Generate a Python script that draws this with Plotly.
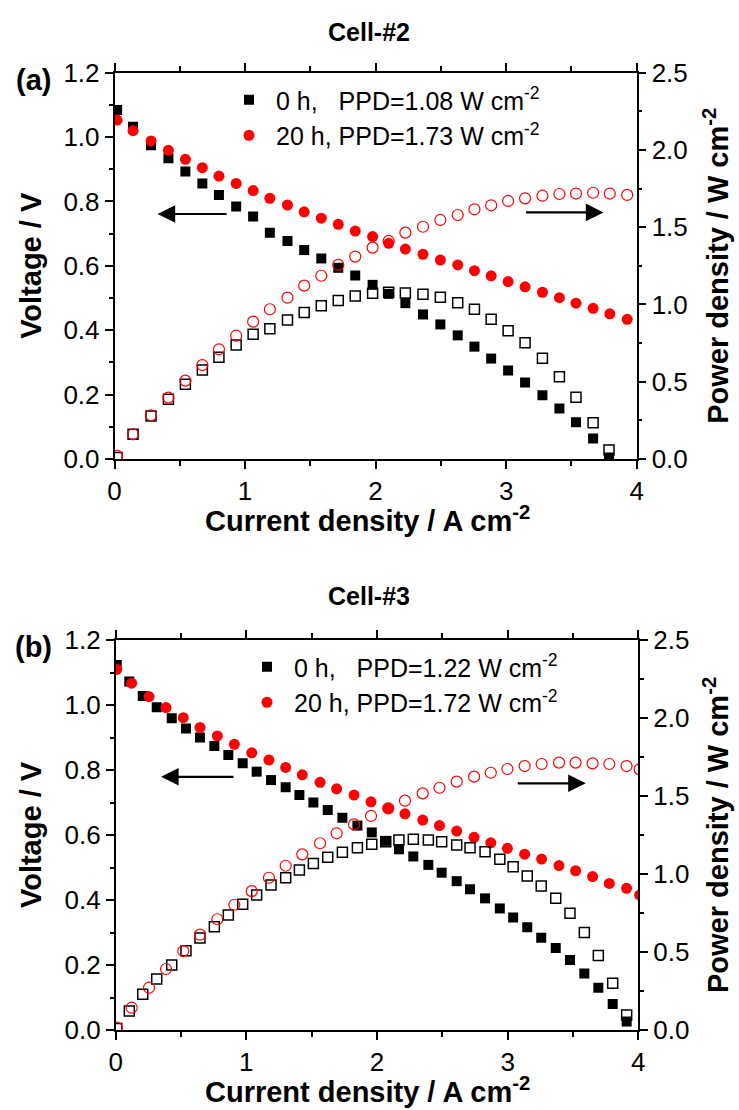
import plotly.graph_objects as go

# ---------------- Panel (a): Cell-#2 ----------------
a_x0 = [0.02, 0.142, 0.28, 0.413, 0.543, 0.673, 0.80, 0.932, 1.062, 1.19, 1.325, 1.453, 1.584, 1.714, 1.844,
        1.977, 2.10, 2.228, 2.363, 2.496, 2.629, 2.757, 2.885, 3.015, 3.145, 3.278, 3.408, 3.535, 3.666, 3.788]
a_v0 = [1.084, 1.032, 0.975, 0.934, 0.893, 0.856, 0.820, 0.784, 0.753, 0.703, 0.677, 0.649, 0.623, 0.594, 0.570,
        0.541, 0.513, 0.484, 0.449, 0.418, 0.384, 0.349, 0.312, 0.275, 0.238, 0.198, 0.157, 0.114, 0.064, 0.005]
a_p0 = [0.01, 0.16, 0.278, 0.386, 0.483, 0.576, 0.658, 0.738, 0.807, 0.843, 0.900, 0.948, 0.992, 1.025, 1.055,
        1.072, 1.079, 1.075, 1.067, 1.046, 1.012, 0.969, 0.904, 0.830, 0.753, 0.652, 0.533, 0.399, 0.235, 0.058]

a_x20 = [0.02, 0.142, 0.28, 0.413, 0.543, 0.673, 0.80, 0.932, 1.062, 1.19, 1.325, 1.453, 1.584, 1.714, 1.844,
         1.977, 2.10, 2.228, 2.363, 2.496, 2.629, 2.757, 2.885, 3.015, 3.145, 3.278, 3.408, 3.535, 3.666, 3.794, 3.927]
a_v20 = [1.053, 1.02, 0.988, 0.959, 0.931, 0.905, 0.879, 0.856, 0.834, 0.810, 0.789, 0.768, 0.748, 0.729, 0.708,
         0.691, 0.670, 0.652, 0.636, 0.618, 0.603, 0.585, 0.569, 0.551, 0.535, 0.518, 0.501, 0.484, 0.468, 0.451, 0.434]
a_p20 = [0.02, 0.16, 0.283, 0.397, 0.507, 0.608, 0.710, 0.798, 0.889, 0.969, 1.044, 1.122, 1.186, 1.256, 1.310,
         1.368, 1.411, 1.465, 1.503, 1.547, 1.579, 1.616, 1.642, 1.670, 1.687, 1.704, 1.715, 1.718, 1.723, 1.718, 1.709]

# ---------------- Panel (b): Cell-#3 ----------------
b_x0 = [0.008, 0.104, 0.207, 0.314, 0.429, 0.538, 0.645, 0.755, 0.862, 0.972, 1.079, 1.189, 1.301, 1.406, 1.513,
        1.623, 1.735, 1.85, 1.96, 2.067, 2.168, 2.278, 2.393, 2.495, 2.61, 2.712, 2.827, 2.94, 3.042, 3.15,
        3.257, 3.368, 3.477, 3.587, 3.694, 3.804, 3.911]
b_v0 = [1.123, 1.072, 1.028, 0.993, 0.959, 0.928, 0.900, 0.874, 0.846, 0.821, 0.795, 0.769, 0.747, 0.723, 0.700,
        0.677, 0.653, 0.629, 0.608, 0.582, 0.556, 0.534, 0.508, 0.484, 0.458, 0.433, 0.405, 0.374, 0.346, 0.316,
        0.284, 0.252, 0.215, 0.174, 0.130, 0.080, 0.026]
b_p0 = [0.01, 0.122, 0.229, 0.327, 0.417, 0.508, 0.59, 0.662, 0.737, 0.806, 0.865, 0.929, 0.976, 1.026, 1.068,
        1.107, 1.139, 1.169, 1.19, 1.207, 1.218, 1.222, 1.218, 1.207, 1.186, 1.169, 1.143, 1.094, 1.047, 0.987,
        0.923, 0.844, 0.748, 0.625, 0.478, 0.299, 0.096]

b_x20 = [0.008, 0.122, 0.255, 0.385, 0.517, 0.645, 0.778, 0.908, 1.041, 1.173, 1.301, 1.428, 1.564, 1.691, 1.824,
         1.954, 2.086, 2.214, 2.35, 2.478, 2.61, 2.743, 2.871, 2.998, 3.13, 3.26, 3.393, 3.52, 3.65, 3.778, 3.91, 4.01]
b_v20 = [1.11, 1.067, 1.026, 0.992, 0.961, 0.931, 0.905, 0.879, 0.853, 0.831, 0.808, 0.785, 0.762, 0.742, 0.723,
         0.702, 0.682, 0.665, 0.646, 0.629, 0.612, 0.593, 0.576, 0.559, 0.541, 0.526, 0.506, 0.490, 0.472, 0.451,
         0.436, 0.415]
b_p20 = [0.015, 0.143, 0.271, 0.391, 0.506, 0.611, 0.71, 0.803, 0.89, 0.976, 1.053, 1.126, 1.197, 1.261, 1.318,
         1.372, 1.421, 1.47, 1.517, 1.553, 1.592, 1.624, 1.649, 1.673, 1.692, 1.705, 1.714, 1.714, 1.709, 1.705,
         1.692, 1.671]

# labels
titles = ["Cell-#2", "Cell-#3"]
panel_tags = ["(a)", "(b)"]
legend_a = ["0 h,\u00a0\u00a0\u00a0PPD=1.08 W cm<sup>-2</sup>", "20 h, PPD=1.73 W cm<sup>-2</sup>"]
legend_b = ["0 h,\u00a0\u00a0\u00a0PPD=1.22 W cm<sup>-2</sup>", "20 h, PPD=1.72 W cm<sup>-2</sup>"]
x_title = "Current density / A cm<sup>-2</sup>"
yl_title = "Voltage / V"
yr_title = "Power density / W cm<sup>-2</sup>"

W, H = 739, 1110


def px(v):
    return v / W


def py(v):
    return 1 - v / H


TICKFONT = dict(family="Arial, Liberation Sans", size=26, color="black")
BOLD = "Arial, Liberation Sans"
LEGFONT = dict(family="Arial, Liberation Sans", size=25, color="black")

fig = go.Figure()


def add_panel(xs0, v0, p0, xs20, v20, p20, xa, ya, ya2, leg, names):
    fig.add_trace(go.Scatter(x=xs0, y=v0, mode="markers", xaxis=xa, yaxis=ya, name=names[0], legend=leg,
                             marker=dict(symbol="square", size=10, color="black", line=dict(width=0))))
    fig.add_trace(go.Scatter(x=xs0, y=p0, mode="markers", xaxis=xa, yaxis=ya2, showlegend=False,
                             marker=dict(symbol="square-open", size=10, color="black", line=dict(width=1.5, color="black"))))
    fig.add_trace(go.Scatter(x=xs20, y=v20, mode="markers", xaxis=xa, yaxis=ya, name=names[1], legend=leg,
                             marker=dict(symbol="circle", size=11, color="#ff0000", line=dict(width=0))))
    fig.add_trace(go.Scatter(x=xs20, y=p20, mode="markers", xaxis=xa, yaxis=ya2, showlegend=False,
                             marker=dict(symbol="circle-open", size=11, color="#ff0000", line=dict(width=1.2, color="#ff0000"))))


add_panel(a_x0, a_v0, a_p0, a_x20, a_v20, a_p20, "x", "y", "y2", "legend", legend_a)
add_panel(b_x0, b_v0, b_p0, b_x20, b_v20, b_p20, "x2", "y3", "y4", "legend2", legend_b)

common = dict(showline=True, linecolor="black", linewidth=1.5, ticks="outside", ticklen=8, tickwidth=1.5,
              tickcolor="black", showgrid=False, zeroline=False, tickfont=TICKFONT, automargin=False)


def xax(dom, anchor):
    return dict(common, domain=dom, anchor=anchor, range=[0, 4], dtick=1, tick0=0, mirror="ticks",
                minor=dict(dtick=0.5, ticklen=5, ticks="outside", tickwidth=1.5, tickcolor="black"))


def ylax(dom, anchor):
    return dict(common, domain=dom, anchor=anchor, range=[0, 1.2], dtick=0.2, tick0=0, tickformat=".1f",
                minor=dict(dtick=0.1, ticklen=4, ticks="outside", tickwidth=1.5, tickcolor="black"))


def yrax(over, anchor):
    return dict(common, overlaying=over, anchor=anchor, side="right", range=[0, 2.5], dtick=0.5, tick0=0,
                tickformat=".1f",
                minor=dict(dtick=0.25, ticklen=4, ticks="outside", tickwidth=1.5, tickcolor="black"))


top_x = [px(114.5), px(636.7)]
top_y = [py(459), py(72.7)]
bot_x = [px(115.7), px(638.3)]
bot_y = [py(1030), py(640)]

fig.update_layout(
    width=W, height=H, template="none",
    margin=dict(l=0, r=0, t=0, b=0, pad=0),
    plot_bgcolor="white", paper_bgcolor="white",
    xaxis=xax(top_x, "y"), yaxis=ylax(top_y, "x"), yaxis2=yrax("y", "x"),
    xaxis2=xax(bot_x, "y3"), yaxis3=ylax(bot_y, "x2"), yaxis4=yrax("y3", "x2"),
    legend=dict(x=px(222), y=py(77), xanchor="left", yanchor="top", font=LEGFONT,
                bgcolor="rgba(0,0,0,0)", borderwidth=0, tracegroupgap=0, itemwidth=44),
    legend2=dict(x=px(240), y=py(644), xanchor="left", yanchor="top", font=LEGFONT,
                 bgcolor="rgba(0,0,0,0)", borderwidth=0, tracegroupgap=0, itemwidth=44),
)

ann = []
# titles & tags
for t, yc in zip(titles, [32, 596]):
    ann.append(dict(text="<b>%s</b>" % t, x=px(369), y=py(yc), xref="paper", yref="paper", showarrow=False,
                    xanchor="center", yanchor="middle", font=dict(family=BOLD, size=25, color="black")))
for t, yc in zip(panel_tags, [80, 647]):
    ann.append(dict(text="<b>%s</b>" % t, x=px(33), y=py(yc), xref="paper", yref="paper", showarrow=False,
                    xanchor="center", yanchor="middle", font=dict(family=BOLD, size=29, color="black")))
# axis titles
for yc in [519, 1090]:
    ann.append(dict(text="<b>%s</b>" % x_title, x=px(367), y=py(yc), xref="paper", yref="paper", showarrow=False,
                    xanchor="center", yanchor="middle", font=dict(family=BOLD, size=29, color="black")))
for yc in [(72.7 + 459) / 2, (640 + 1030) / 2]:
    ann.append(dict(text="<b>%s</b>" % yl_title, x=px(31), y=py(yc), xref="paper", yref="paper", showarrow=False,
                    textangle=-90, xanchor="center", yanchor="middle", font=dict(family=BOLD, size=29, color="black")))
    ann.append(dict(text="<b>%s</b>" % yr_title, x=px(716), y=py(yc), xref="paper", yref="paper", showarrow=False,
                    textangle=-90, xanchor="center", yanchor="middle", font=dict(family=BOLD, size=29, color="black")))

# arrows (head at x,y ; tail at ax,ay)
arrows = [
    ("x", "y", 0.33, 0.87, 0.761),
    ("x", "y", 3.745, 3.14, 0.766),
    ("x2", "y3", 0.347, 0.913, 0.779),
    ("x2", "y3", 3.598, 3.066, 0.759),
]
for xr, yr, hx, tx, yv in arrows:
    ann.append(dict(x=hx, y=yv, ax=tx, ay=yv, xref=xr, yref=yr, axref=xr, ayref=yr, text="", showarrow=True,
                    arrowhead=2, arrowsize=1.6, arrowwidth=2.2, arrowcolor="black", standoff=0))

fig.update_layout(annotations=ann)

fig.write_html("out.html", config={"displayModeBar": False},
               post_script="document.body.style.margin='0';document.body.style.overflow='hidden';")
